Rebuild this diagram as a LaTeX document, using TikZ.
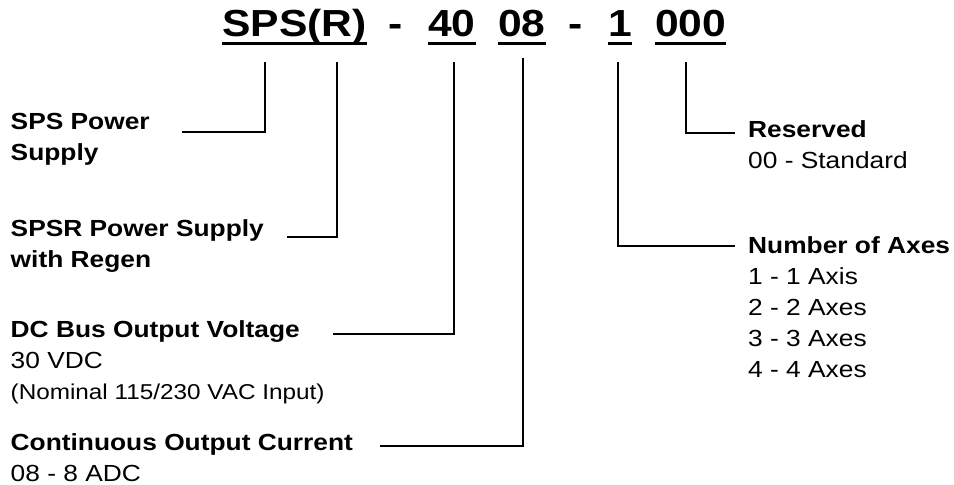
\documentclass[tikz,border=0pt]{standalone}
\usepackage{fontspec}
\setmainfont{Liberation Sans}[FakeStretch=1.13]
\newcommand\lbllines[1]{\begin{tabular}[t]{@{}l@{}}#1\end{tabular}}
\begin{document}
\begin{tikzpicture}[x=1pt,y=-1pt,
  conn/.style={line width=2pt},
  ul/.style={line width=3pt},
  ttl/.style={inner sep=0pt, anchor=base west, font=\fontsize{37.7}{40}\selectfont\bfseries},
  lab/.style={inner sep=0pt, anchor=base west, font=\fontsize{23.3}{31}\selectfont}]
\useasboundingbox[fill=white] (0,0) rectangle (954,485);

% title pieces
\node[ttl] (tSPS) at (222,36.5) {SPS(R)};
\node[ttl] (tD1)  at (388,36.5) {-};
\node[ttl] (t40)  at (428,36.5) {40};
\node[ttl] (t08)  at (498,36.5) {08};
\node[ttl] (tD2)  at (568,36.5) {-};
\node[ttl] (t1)   at (608,36.5) {1};
\node[ttl] (t000) at (655,36.5) {000};
\foreach \n in {tSPS,t40,t08,t1,t000}
  \draw[ul] ([yshift=-6.8pt]\n.base west) -- ([yshift=-6.8pt]\n.base east);

% labels
\node[lab] (lSPS) at (10.5,129) {\lbllines{\bfseries SPS Power\\ \bfseries Supply}};
\node[lab] (lSPSR) at (10.5,236) {\lbllines{\bfseries SPSR Power Supply\\ \bfseries with Regen}};
\node[lab] (lDC) at (10.5,337) {\lbllines{\bfseries DC Bus Output Voltage\\ 30 VDC\\ {\fontsize{21.5}{24}\selectfont (Nominal 115/230 VAC Input)}}};
\node[lab] (lCur) at (10.5,450) {\lbllines{\bfseries Continuous Output Current\\ 08 - 8 ADC}};
\node[lab] (lRes) at (748,137.5) {\lbllines{\bfseries Reserved\\ 00 - Standard}};
\node[lab] (lAx) at (748,253) {\lbllines{\bfseries Number of Axes\\ 1 - 1 Axis\\ 2 - 2 Axes\\ 3 - 3 Axes\\ 4 - 4 Axes}};

% connector end points
\coordinate (cSPS) at (182,132);   \coordinate (vSPS) at (265,62);
\coordinate (cSPSR) at (287,237);  \coordinate (vSPSR) at (337,62);
\coordinate (cDC) at (333,334);    \coordinate (v40) at (454,62);
\coordinate (cCur) at (380,446);   \coordinate (v08) at (523,58);
\coordinate (cAx) at (735,246);    \coordinate (v1) at (618,62);
\coordinate (cRes) at (735,133);   \coordinate (v000) at (686,62);

\draw[conn] (cSPS) -| (vSPS);
\draw[conn] (cSPSR) -| (vSPSR);
\draw[conn] (cDC) -| (v40);
\draw[conn] (cCur) -| (v08);
\draw[conn] (cAx) -| (v1);
\draw[conn] (cRes) -| (v000);
\end{tikzpicture}
\end{document}
